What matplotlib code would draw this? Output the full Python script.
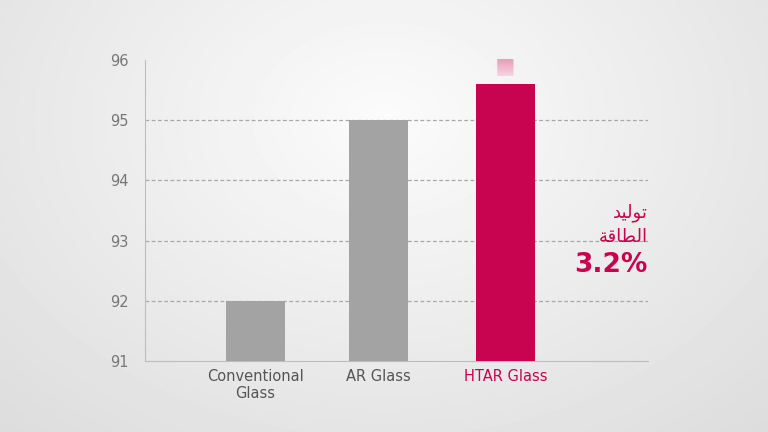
import numpy as np
import matplotlib.pyplot as plt
from matplotlib.patches import FancyArrow
from matplotlib.colors import LinearSegmentedColormap

categories = ["Conventional\nGlass", "AR Glass", "HTAR Glass"]
values = [92.0, 95.0, 95.6]
yticks = [91, 92, 93, 94, 95, 96]
# Arabic written in presentation forms, visual order (matplotlib has no bidi shaping)
label_line1 = "\uFEAA\uFEF4\uFEDF\uFEEE\uFE97"        # توليد
label_line2 = "\uFE94\uFED7\uFE8E\uFEC4\uFEDF\uFE8D"  # الطاقة
gain = "3.2%"

red = "#c8034f"
fig = plt.figure(figsize=(7.68, 4.32), dpi=100)

# radial background
bg = fig.add_axes([0, 0, 1, 1], zorder=-1)
yy, xx = np.mgrid[0:432, 0:768]
r = np.sqrt(((xx - 384) / 560.0) ** 2 + ((yy - 120) / 420.0) ** 2)
shade = 0.985 - 0.12 * np.clip(r, 0, 1.3)
bg.imshow(shade, cmap="gray", vmin=0, vmax=1, aspect="auto")
bg.axis("off")

ax = fig.add_axes([145 / 768, 71 / 432, 503 / 768, 301 / 432])
ax.patch.set_alpha(0)
x = np.array([0, 0.985, 2.0])

cols = ["#a3a3a3", "#a3a3a3", red]
for xi, v, c in zip(x, values, cols):
    ax.bar(xi, v - 91, bottom=91, width=0.47, color=c, zorder=3)

for t in yticks[1:-1]:
    ax.axhline(t, color="#a8a8a8", lw=0.9, ls=(0, (3, 2)), zorder=1)

for s in ["top", "right"]:
    ax.spines[s].set_visible(False)
ax.spines["left"].set_color("#bdbdbd")
ax.spines["bottom"].set_color("#bdbdbd")
ax.set_yticks(yticks)
ax.set_yticklabels([str(t) for t in yticks])
ax.tick_params(axis="y", length=0, pad=12, labelsize=10.5, labelcolor="#777777")
ax.tick_params(axis="x", length=0, pad=6, labelsize=10.5)
ax.set_xticks(x)
ax.set_xticklabels(categories, linespacing=1.1)
for lbl, c in zip(ax.get_xticklabels(), ["#555555", "#555555", red]):
    lbl.set_color(c)

# gradient arrow above the HTAR bar
arrow = FancyArrow(2.0, 95.73, 0, 0.78, width=0.13, head_width=0.27,
                   head_length=0.3, length_includes_head=True, lw=0,
                   transform=ax.transData, clip_on=False)
arrow.set_facecolor("none")
ax.add_patch(arrow)
cmap = LinearSegmentedColormap.from_list("fade", ["#f6d3e0", "#d2336e"])
grad = np.linspace(0, 1, 100).reshape(-1, 1)
im = ax.imshow(grad, cmap=cmap, extent=[1.8, 2.2, 95.73, 96.52], origin="lower",
               aspect="auto", zorder=4)
im.set_clip_box(None)
im.set_clip_path(arrow)
ax.set_xlim(-0.88, 3.14)
ax.set_ylim(91, 96)

fig.text(648 / 768, 1 - 213 / 432, label_line1, color=red, fontsize=13,
         ha="right", va="center", family="DejaVu Sans")
fig.text(648 / 768, 1 - 237 / 432, label_line2, color=red, fontsize=13,
         ha="right", va="center", family="DejaVu Sans")
fig.text(648 / 768, 1 - 265 / 432, gain, color=red, fontsize=19,
         fontweight="bold", ha="right", va="center")

fig.savefig("out.png", dpi=100)
